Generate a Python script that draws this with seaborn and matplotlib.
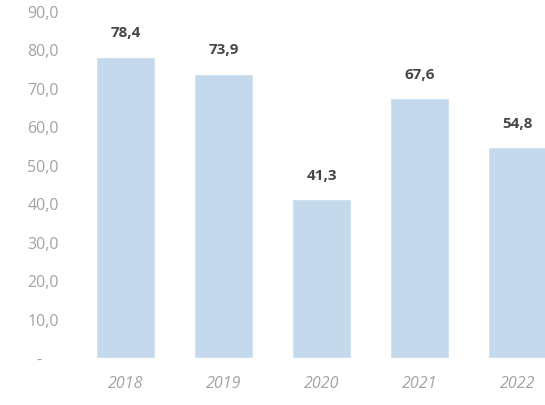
import seaborn as sns
import matplotlib.pyplot as plt
import pandas as pd

# Valores del gráfico
anios   = ["2018", "2019", "2020", "2021", "2022"]
valores = [78.4, 73.9, 41.3, 67.6, 54.8]
ticks_y = [0, 10, 20, 30, 40, 50, 60, 70, 80, 90]

df = pd.DataFrame({"anio": anios, "valor": valores})

sns.set_style("white")
plt.rcParams["font.family"] = ["Open Sans", "DejaVu Sans"]

fig = plt.figure(figsize=(5.45, 4.05), dpi=100)
ax = fig.add_axes([70 / 545, 47 / 405, 475 / 545, 346 / 405])

sns.barplot(data=df, x="anio", y="valor", color="#c4d9eb", width=0.6,
            saturation=1, ax=ax)

for i, v in enumerate(valores):
    ax.text(i, v + 4.3, f"{v:.1f}".replace(".", ","), ha="center", va="bottom",
            fontsize=11, fontweight="bold", color="#474747")

ax.set_xlim(-0.57, 4.28)
ax.set_ylim(0, 90)
ax.set_yticks(ticks_y)
# formato contable: el cero se muestra como "-"
ax.set_yticklabels(["-    " if t == 0 else f"{t:.1f}".replace(".", ",") for t in ticks_y],
                   fontsize=11.5, color="#a3a3a3")
ax.tick_params(axis="x", labelsize=11.5, labelcolor="#a3a3a3", pad=13, length=0)
ax.tick_params(axis="y", length=0, pad=15 - 7)
for lbl in ax.get_xticklabels():
    lbl.set_fontstyle("italic")
ax.set_xlabel("")
ax.set_ylabel("")
sns.despine(left=True, bottom=True)

fig.savefig("out.png", dpi=100)
